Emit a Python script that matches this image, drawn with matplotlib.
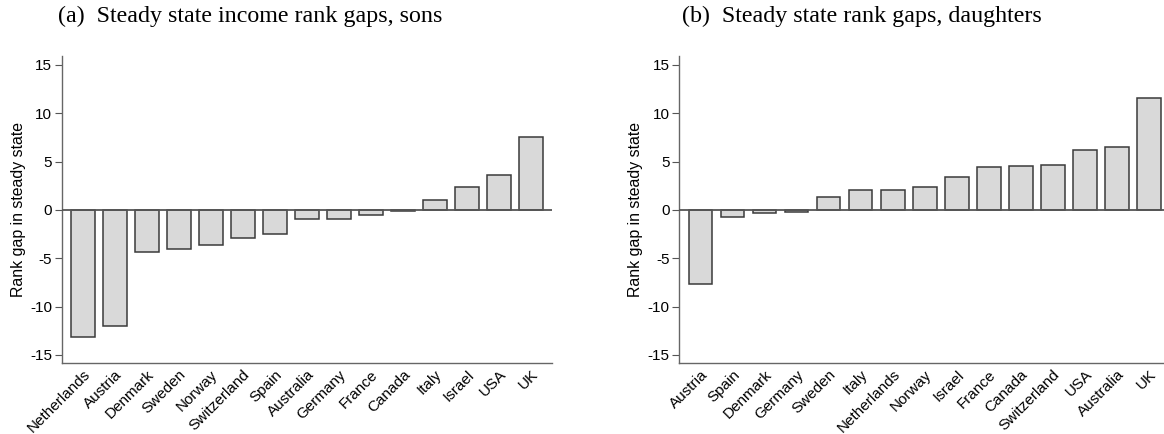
import numpy as np
import matplotlib.pyplot as plt

# steady state rank gaps
sons_countries = ['Netherlands', 'Austria', 'Denmark', 'Sweden', 'Norway', 'Switzerland',
                  'Spain', 'Australia', 'Germany', 'France', 'Canada', 'Italy', 'Israel',
                  'USA', 'UK']
sons_gap = [-13.17, -12.0, -4.31, -4.03, -3.66, -2.9, -2.48, -0.93, -0.9, -0.55, -0.13,
            1.07, 2.38, 3.66, 7.52]

daughters_countries = ['Austria', 'Spain', 'Denmark', 'Germany', 'Sweden', 'Italy',
                       'Netherlands', 'Norway', 'Israel', 'France', 'Canada', 'Switzerland',
                       'USA', 'Australia', 'UK']
daughters_gap = [-7.69, -0.76, -0.34, -0.24, 1.31, 2.03, 2.1, 2.38, 3.45, 4.41, 4.52, 4.62,
                 6.17, 6.48, 11.55]

yticks = [-15, -10, -5, 0, 5, 10, 15]

plt.rcParams['font.family'] = ['Liberation Sans', 'DejaVu Sans']

W, H = 1164, 434
fig = plt.figure(figsize=(W/100, H/100), dpi=100)

def panel(rect, names, vals, xmax):
    ax = fig.add_axes(rect)
    x = np.arange(len(names))
    ax.bar(x, vals, width=0.74, color='#d9d9d9', edgecolor='#3a3a3a', linewidth=1.1, zorder=2)
    ax.axhline(0, color='#555555', linewidth=1.3, zorder=3)
    ax.set_xlim(-0.66, xmax)
    ax.set_ylim(-15.86, 15.93)
    ax.set_yticks(yticks)
    ax.set_yticklabels([str(t) for t in yticks], fontsize=11)
    ax.set_xticks(x)
    ax.set_xticklabels(names, rotation=45, ha='right', rotation_mode='anchor', fontsize=11)
    ax.tick_params(axis='x', length=0, pad=3)
    ax.tick_params(axis='y', length=5, width=0.8, color='#555555', pad=2)
    for s in ['top', 'right']:
        ax.spines[s].set_visible(False)
    for s in ['left', 'bottom']:
        ax.spines[s].set_color('#666666')
        ax.spines[s].set_linewidth(1.0)
    ax.set_ylabel('Rank gap in steady state', fontsize=11.4, labelpad=3)
    return ax

panel([61.7/W, 70.7/H, 490/W, 307.3/H], sons_countries, sons_gap, 14.65)
panel([679.3/W, 70.7/H, 484.7/W, 307.3/H], daughters_countries, daughters_gap, 14.47)

fig.text(250/W, 1 - 16/H, '(a)  Steady state income rank gaps, sons', ha='center', va='center',
         fontsize=17.3, family='Liberation Serif')
fig.text(862/W, 1 - 16/H, '(b)  Steady state rank gaps, daughters', ha='center', va='center',
         fontsize=17.3, family='Liberation Serif')

fig.savefig('out.png', dpi=100)
